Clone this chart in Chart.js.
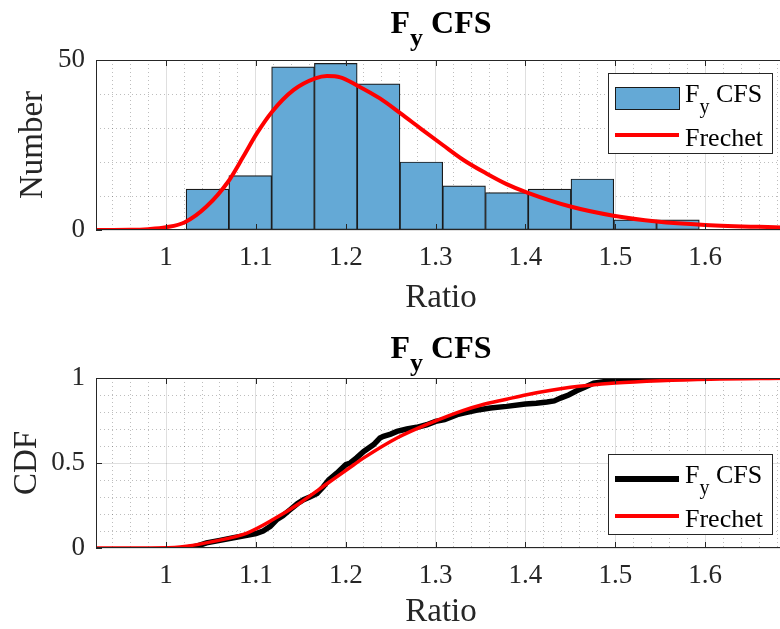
<!DOCTYPE html>
<html>
<head>
<meta charset="utf-8">
<script src="https://cdn.jsdelivr.net/npm/chart.js@4.4.1/dist/chart.umd.min.js"></script>
<style>
  html, body { margin: 0; padding: 0; background: #fff; overflow: hidden; width: 780px; height: 629px; }
  #wrap { position: relative; width: 780px; height: 629px; overflow: hidden; }
  canvas { position: absolute; left: 0; }
</style>
</head>
<body>
<div id="wrap">
  <canvas id="hist" width="790" height="315" style="top:0px"></canvas>
  <canvas id="cdf" width="790" height="314" style="top:315px"></canvas>
</div>
<script>
// histogram of Fy CFS ratios
const binCenters = [1.0461, 1.0937, 1.1413, 1.1889, 1.2365, 1.2841, 1.3317, 1.3793, 1.4269, 1.4745, 1.5221, 1.5697];
const binCounts = [12, 16, 48, 49, 43, 20, 13, 11, 12, 15, 3, 3];

// fitted Frechet, scaled to counts
const pdfX = [0.922, 0.96, 0.98, 1.0, 1.021, 1.045, 1.069, 1.086, 1.101, 1.118, 1.142, 1.166, 1.179, 1.194, 1.212, 1.238, 1.261, 1.283, 1.308, 1.331, 1.356, 1.379, 1.402, 1.45, 1.498, 1.546, 1.6, 1.69];
const pdfY = [0, 0.05, 0.25, 0.8, 2.3, 6.9, 14.2, 21.6, 28.4, 34.8, 41.2, 44.6, 45.3, 44.9, 42.6, 38.7, 34.3, 29.9, 25.0, 20.6, 16.7, 13.5, 11.0, 6.9, 4.2, 2.5, 1.5, 0.7];

// empirical CDF
const ecdfX = [1.023, 1.035, 1.045, 1.06, 1.075, 1.09, 1.1, 1.108, 1.116, 1.123, 1.13, 1.138, 1.146, 1.153, 1.16, 1.168, 1.175, 1.181, 1.19, 1.2, 1.205, 1.212, 1.22, 1.231, 1.238, 1.242, 1.25, 1.257, 1.268, 1.279, 1.29, 1.3, 1.31, 1.324, 1.331, 1.345, 1.361, 1.379, 1.4, 1.412, 1.424, 1.432, 1.439, 1.448, 1.457, 1.466, 1.476, 1.487, 1.498, 1.52, 1.53, 1.545, 1.56, 1.592];
const ecdfY = [0, 0.012, 0.03, 0.045, 0.06, 0.075, 0.085, 0.1, 0.127, 0.166, 0.19, 0.225, 0.26, 0.284, 0.3, 0.32, 0.36, 0.4, 0.44, 0.49, 0.5, 0.53, 0.568, 0.608, 0.647, 0.657, 0.67, 0.686, 0.7, 0.71, 0.725, 0.745, 0.755, 0.784, 0.794, 0.81, 0.824, 0.833, 0.847, 0.852, 0.859, 0.865, 0.882, 0.9, 0.925, 0.945, 0.97, 0.978, 0.985, 0.988, 0.99, 0.996, 1.0, 1.0];

// fitted Frechet CDF
const cdfX = [0.922, 0.98, 1.0156, 1.053, 1.09, 1.12, 1.149, 1.181, 1.209, 1.22, 1.257, 1.294, 1.331, 1.35, 1.379, 1.4, 1.45, 1.5, 1.55, 1.606, 1.69];
const cdfY = [0, 0.0005, 0.006, 0.039, 0.088, 0.17, 0.265, 0.385, 0.49, 0.53, 0.647, 0.735, 0.81, 0.84, 0.875, 0.9, 0.945, 0.97, 0.984, 0.993, 0.998];

const X_MIN = 0.922, X_MAX = 1.69;

const AXIS = '#262626';
const SERIF = '"Liberation Serif", "Times New Roman", serif';

const toPts = (xs, ys) => xs.map((x, i) => ({x: x, y: ys[i]}));
const isMult = (v, step) => Math.abs(v / step - Math.round(v / step)) < 1e-6;

// MATLAB style box, inner ticks, title with subscript and legend
const matlabFrame = {
  id: 'matlabFrame',
  afterDraw(chart, args, o) {
    const {ctx, chartArea: a, scales: {x, y}} = chart;
    ctx.save();
    ctx.strokeStyle = AXIS;
    ctx.lineWidth = 1;
    ctx.strokeRect(a.left + 0.5, a.top + 0.5, a.right - a.left - 1, a.bottom - a.top - 1);
    ctx.beginPath();
    x.ticks.filter(t => isMult(t.value, 0.1)).forEach(t => {
      const px = Math.round(x.getPixelForValue(t.value)) + 0.5;
      ctx.moveTo(px, a.top); ctx.lineTo(px, a.top + 6);
      ctx.moveTo(px, a.bottom); ctx.lineTo(px, a.bottom - 6);
    });
    y.ticks.filter(t => o.yMajor.includes(+t.value.toFixed(3))).forEach(t => {
      const py = Math.round(y.getPixelForValue(t.value)) + 0.5;
      ctx.moveTo(a.left, py); ctx.lineTo(a.left + 6, py);
    });
    ctx.stroke();

    // title  F_y CFS
    ctx.fillStyle = '#000';
    ctx.textBaseline = 'alphabetic';
    ctx.textAlign = 'left';
    const big = 'bold 32px ' + SERIF, small = 'bold 26px ' + SERIF;
    ctx.font = big; const wF = ctx.measureText('F').width; const wC = ctx.measureText(' CFS').width;
    ctx.font = small; const wy = ctx.measureText('y').width;
    let tx = (a.left + a.right) / 2 - (wF + wy + wC) / 2;
    ctx.font = big; ctx.fillText('F', tx, o.titleY);
    ctx.font = small; ctx.fillText('y', tx + wF, o.titleY + 13);
    ctx.font = big; ctx.fillText(' CFS', tx + wF + wy, o.titleY);

    // legend
    const L = o.legend;
    ctx.fillStyle = '#fff';
    ctx.fillRect(L.left, L.top, L.right - L.left, L.bottom - L.top);
    ctx.strokeStyle = AXIS;
    ctx.strokeRect(L.left + 0.5, L.top + 0.5, L.right - L.left, L.bottom - L.top);
    const ix0 = L.left + 7, ix1 = L.left + 71, tx0 = L.left + 77;
    const s0 = L.items[0];
    if (s0.kind === 'bar') {
      ctx.fillStyle = s0.fill;
      ctx.fillRect(ix0, L.top + 14, ix1 - ix0, 22);
      ctx.strokeStyle = '#1a1a1a';
      ctx.strokeRect(ix0 + 0.5, L.top + 14.5, ix1 - ix0, 22);
    } else {
      ctx.strokeStyle = s0.color; ctx.lineWidth = s0.width;
      ctx.beginPath(); ctx.moveTo(ix0, L.top + 25); ctx.lineTo(ix1, L.top + 25); ctx.stroke();
    }
    ctx.fillStyle = '#000';
    ctx.font = '26px ' + SERIF;
    const wf = ctx.measureText('F').width;
    ctx.fillText('F', tx0, L.top + 29);
    ctx.font = '20px ' + SERIF;
    const wsub = ctx.measureText('y').width;
    ctx.fillText('y', tx0 + wf, L.top + 40);
    ctx.font = '26px ' + SERIF;
    ctx.fillText(' CFS', tx0 + wf + wsub, L.top + 29);
    const s1 = L.items[1];
    ctx.strokeStyle = s1.color; ctx.lineWidth = s1.width;
    ctx.beginPath(); ctx.moveTo(ix0, L.top + 62); ctx.lineTo(ix1, L.top + 62); ctx.stroke();
    ctx.fillText('Frechet', tx0, L.top + 73);
    ctx.restore();
  }
};

function xScale(h) {
  return {
    type: 'linear', min: X_MIN, max: X_MAX, offset: false,
    afterFit: s => { s.height = h; },
    ticks: {
      stepSize: 0.02, includeBounds: false, autoSkip: false, maxRotation: 0, padding: 12,
      color: AXIS, font: {family: SERIF, size: 27},
      callback: v => isMult(v, 0.1) ? String(+v.toFixed(1)) : ''
    },
    grid: {
      offset: false, drawTicks: false,
      color: c => isMult(c.tick.value, 0.1) ? 'rgba(38,38,38,0.15)' : 'rgba(38,38,38,0.3)'
    },
    border: { display: false, dash: c => isMult(c.tick.value, 0.1) ? [] : [1, 3] },
    title: { display: true, text: 'Ratio', color: AXIS, font: {family: SERIF, size: 33, lineHeight: 1}, padding: {top: 0, bottom: 0} }
  };
}

function yScale(max, step, majors, label, titlePad) {
  const isMaj = v => majors.includes(+v.toFixed(3));
  return {
    type: 'linear', min: 0, max: max,
    afterFit: s => { s.width = 96; },
    ticks: {
      stepSize: step, autoSkip: false, padding: 11,
      color: AXIS, font: {family: SERIF, size: 27},
      callback: v => isMaj(v) ? String(+v.toFixed(1)) : ''
    },
    grid: {
      drawTicks: false,
      color: c => isMaj(c.tick.value) ? 'rgba(38,38,38,0.15)' : 'rgba(38,38,38,0.3)'
    },
    border: { display: false, dash: c => isMaj(c.tick.value) ? [] : [1, 3] },
    title: { display: true, text: label, color: AXIS, font: {family: SERIF, size: 33, lineHeight: 1}, padding: titlePad }
  };
}

const hist = document.getElementById('hist');

new Chart(hist, {
  type: 'bar',
  data: {
    datasets: [{
      type: 'line',
      label: 'Frechet',
      data: toPts(pdfX, pdfY),
      borderColor: '#ff0000',
      borderWidth: 4,
      pointRadius: 0,
      cubicInterpolationMode: 'monotone',
      order: 0
    }, {
      type: 'bar',
      label: 'Fy CFS',
      xAxisID: 'xb',
      data: toPts(binCenters, binCounts),
      backgroundColor: 'rgb(100,169,214)',
      borderColor: '#1a1a1a',
      borderWidth: 1.2,
      borderSkipped: false,
      barPercentage: 1,
      categoryPercentage: 1,
      grouped: false,
      order: 1
    }]
  },
  options: {
    responsive: false,
    animation: false,
    layout: { padding: {top: 60, left: 0, right: 4, bottom: 0} },
    scales: {
      x: xScale(85),
      // bar positions only: same range, one tick so bar width follows the bins
      xb: { type: 'linear', display: false, min: X_MIN, max: X_MAX, offset: false,
            ticks: { stepSize: 1, includeBounds: false } },
      y: yScale(50, 10, [0, 50], 'Number', {top: 17, bottom: 0})
    },
    plugins: {
      legend: { display: false },
      tooltip: { enabled: false },
      matlabFrame: {
        titleY: 33,
        yMajor: [0, 50],
        legend: { left: 608, top: 73, right: 772, bottom: 153,
          items: [{kind: 'bar', fill: 'rgb(100,169,214)'}, {kind: 'line', color: '#ff0000', width: 4}] }
      }
    }
  },
  plugins: [matlabFrame]
});

const cdf = document.getElementById('cdf');

new Chart(cdf, {
  type: 'line',
  data: {
    datasets: [{
      label: 'Frechet',
      data: toPts(cdfX, cdfY),
      borderColor: '#ff0000',
      borderWidth: 3.5,
      pointRadius: 0,
      cubicInterpolationMode: 'monotone',
      order: 0
    }, {
      label: 'Fy CFS',
      data: toPts(ecdfX, ecdfY),
      borderColor: '#000000',
      borderWidth: 5.5,
      pointRadius: 0,
      tension: 0,
      order: 1
    }]
  },
  options: {
    responsive: false,
    animation: false,
    layout: { padding: {top: 63, left: 0, right: 4, bottom: 0} },
    scales: {
      x: xScale(81),
      y: yScale(1, 0.1, [0, 0.5, 1], 'CDF', {top: 11, bottom: 0})
    },
    plugins: {
      legend: { display: false },
      tooltip: { enabled: false },
      matlabFrame: {
        titleY: 43,
        yMajor: [0, 0.5, 1],
        legend: { left: 608, top: 139, right: 772, bottom: 219,
          items: [{kind: 'line', color: '#000000', width: 6}, {kind: 'line', color: '#ff0000', width: 4}] }
      }
    }
  },
  plugins: [matlabFrame]
});
</script>
</body>
</html>
